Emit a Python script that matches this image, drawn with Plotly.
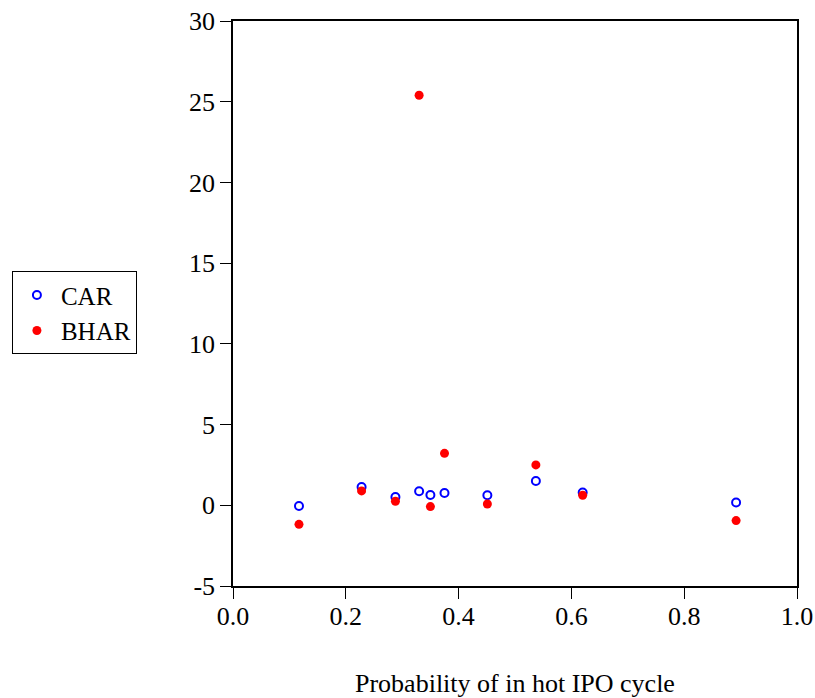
import plotly.graph_objects as go

prob = [0.117, 0.228, 0.288, 0.330, 0.350, 0.375, 0.451, 0.537, 0.620, 0.892]
car = [-0.04, 1.13, 0.51, 0.87, 0.64, 0.76, 0.62, 1.50, 0.79, 0.17]
bhar = [-1.18, 0.89, 0.25, 25.4, -0.08, 3.22, 0.08, 2.50, 0.62, -0.95]

y_ticks = [-5, 0, 5, 10, 15, 20, 25, 30]
y_labels = ["-5", "0", "5", "10", "15", "20", "25", "30"]
x_ticks = [0, 0.2, 0.4, 0.6, 0.8, 1.0]
x_labels = ["0.0", "0.2", "0.4", "0.6", "0.8", "1.0"]

FAM = "Liberation Serif, Times New Roman, serif"
font = dict(family=FAM, size=26, color="black")

fig = go.Figure()
fig.add_trace(go.Scatter(x=prob, y=car, mode="markers", name="CAR",
                         marker=dict(symbol="circle-open", size=8, color="blue",
                                     line=dict(width=2, color="blue"))))
fig.add_trace(go.Scatter(x=prob, y=bhar, mode="markers", name="BHAR",
                         marker=dict(symbol="circle", size=9, color="red")))

fig.update_layout(
    width=815, height=698,
    margin=dict(l=231, r=18, t=21, b=112),
    paper_bgcolor="white", plot_bgcolor="white",
    font=font,
    showlegend=True,
    legend=dict(x=-0.392, y=0.557, xanchor="left", yanchor="top",
                bordercolor="black", borderwidth=1, bgcolor="white",
                font=dict(family=FAM, size=25, color="black"), tracegroupgap=0,
                itemwidth=38),
    xaxis=dict(range=[0, 1], tickvals=x_ticks, ticktext=x_labels,
               ticks="outside", ticklen=11, tickcolor="black", tickwidth=1,
               ticklabelstandoff=-5,
               showline=True, linecolor="black", linewidth=1.5, mirror=True,
               showgrid=False, zeroline=False, automargin=False),
    yaxis=dict(range=[-5, 30], tickvals=y_ticks, ticktext=y_labels,
               ticks="outside", ticklen=11, tickcolor="black", tickwidth=1,
               showline=True, linecolor="black", linewidth=1.5, mirror=True,
               showgrid=False, zeroline=False, automargin=False),
    annotations=[dict(text="Probability of in hot IPO cycle", xref="paper", yref="paper",
                      x=0.5, y=-0.172, xanchor="center", yanchor="middle",
                      showarrow=False, font=dict(family=FAM, size=26, color="black"))],
)

fig.write_html("out.html")
